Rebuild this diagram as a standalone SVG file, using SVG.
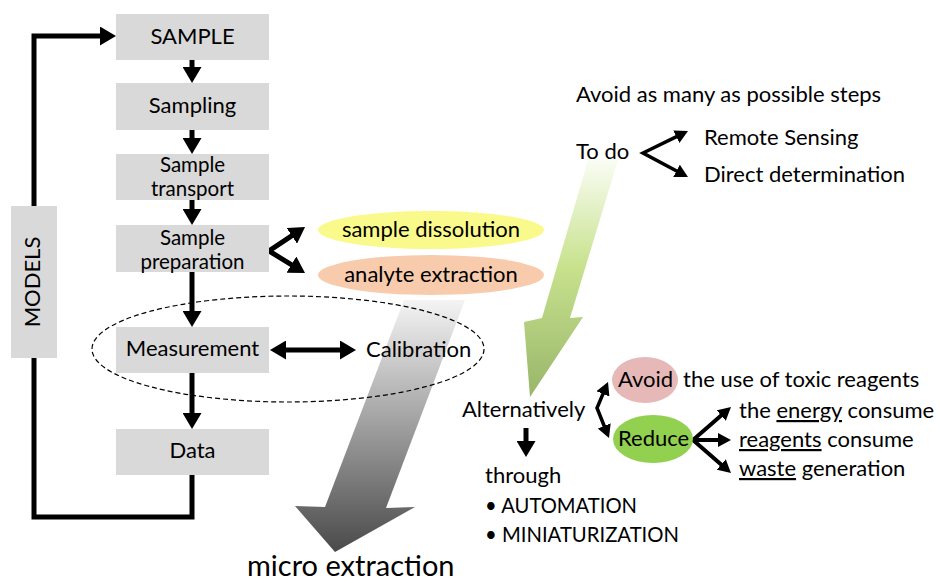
<svg xmlns="http://www.w3.org/2000/svg" width="940" height="583" viewBox="0 0 940 583">
<defs>
<style>
text{font-family:Lato,"Open Sans","Liberation Sans",sans-serif;font-size:22px;fill:#000}
.bx{fill:#d9d9d9}
.c{text-anchor:middle}
.two{font-size:20.5px}
.thick{fill:none;stroke:#000;stroke-width:5}
.thin{fill:none;stroke:#000;stroke-width:3.5}
.mid{fill:none;stroke:#000;stroke-width:4}
.u{text-decoration:underline}
</style>
<marker id="ah" viewBox="0 0 16 19" refX="8" refY="9.5" markerWidth="16" markerHeight="19" markerUnits="userSpaceOnUse" orient="auto-start-reverse">
<path d="M0,0 L16,9.5 L0,19 z" fill="#000"/>
</marker>
<marker id="ahs" viewBox="0 0 13 14" refX="6" refY="7" markerWidth="13" markerHeight="14" markerUnits="userSpaceOnUse" orient="auto-start-reverse">
<path d="M0,0 L13,7 L0,14 z" fill="#000"/>
</marker>
<linearGradient id="gGray" gradientUnits="userSpaceOnUse" x1="0" y1="300" x2="0" y2="552">
<stop offset="0" stop-color="#f4f4f4"/>
<stop offset="1" stop-color="#4a4a4a"/>
</linearGradient>
<linearGradient id="gGreen" gradientUnits="userSpaceOnUse" x1="0" y1="158" x2="0" y2="397">
<stop offset="0" stop-color="#fbfdf6"/>
<stop offset="0.45" stop-color="#c8e28e"/>
<stop offset="1" stop-color="#98b66a"/>
</linearGradient>
</defs>
<rect width="940" height="583" fill="#fff"/>

<g id="bigArrows">
<polygon points="404,300 465,300 386,508 415,507 335,552 295,506 325,507" fill="url(#gGray)"/>
<polygon points="588,160 618,160 570,318 583,317 530,397 524,322 542,318" fill="url(#gGreen)"/>
</g>

<g id="connectors">
<line class="thick" x1="192" y1="60" x2="192" y2="75" marker-end="url(#ah)"/>
<line class="thick" x1="192" y1="130" x2="192" y2="146" marker-end="url(#ah)"/>
<line class="thick" x1="192" y1="200" x2="192" y2="217" marker-end="url(#ah)"/>
<line class="thick" x1="192" y1="272" x2="192" y2="319" marker-end="url(#ah)"/>
<line class="thick" x1="192" y1="373" x2="192" y2="421" marker-end="url(#ah)"/>
<path class="thick" d="M192,475 V517 H34 V358"/>
<path class="thick" d="M34,206 V36 H108" marker-end="url(#ah)"/>
<path class="thick" d="M298.4,231.4 L269,251 L298.2,268.8" marker-start="url(#ah)" marker-end="url(#ah)"/>
<path class="thick" d="M278,350 H348" marker-start="url(#ah)" marker-end="url(#ah)"/>
<path class="thin" d="M681.7,134.1 L643,153 L681.8,173.7" marker-start="url(#ahs)" marker-end="url(#ahs)"/>
<path class="thin" d="M605.3,388.4 L597,408 L606.4,431.5" marker-start="url(#ahs)" marker-end="url(#ahs)"/>
<path class="mid" d="M725.7,411.6 L693,440 L725.7,468.4" marker-start="url(#ahs)" marker-end="url(#ahs)"/>
<line class="mid" x1="693" y1="440" x2="724" y2="440" marker-end="url(#ahs)"/>
<line class="thick" x1="526" y1="428" x2="526" y2="449" marker-end="url(#ah)"/>
</g>

<g id="measurementGroup">
<ellipse cx="288" cy="349" rx="196" ry="53" fill="none" stroke="#000" stroke-width="1.2" stroke-dasharray="5,3"/>
</g>

<g id="sample"><rect class="bx" x="116" y="14" width="153" height="46"/><text class="c" x="192.5" y="44">SAMPLE</text></g>
<g id="sampling"><rect class="bx" x="116" y="83" width="153" height="47"/><text class="c" x="192.5" y="113">Sampling</text></g>
<g id="transport"><rect class="bx" x="116" y="154" width="153" height="46"/><text class="c two" x="192.5" y="172">Sample<tspan x="192.5" dy="24">transport</tspan></text></g>
<g id="preparation"><rect class="bx" x="116" y="225" width="153" height="47"/><text class="c two" x="192.5" y="245">Sample<tspan x="192.5" dy="24">preparation</tspan></text></g>
<g id="measurement"><rect class="bx" x="116" y="327" width="153" height="46"/><text class="c" x="192.5" y="356">Measurement</text></g>
<g id="data"><rect class="bx" x="116" y="429" width="153" height="46"/><text class="c" x="192.5" y="458">Data</text></g>
<g id="models"><rect class="bx" x="11" y="206" width="46" height="152"/><text class="c" transform="translate(40,282) rotate(-90)">MODELS</text></g>

<g id="dissolution"><ellipse cx="431" cy="230" rx="113" ry="19" fill="#fafa8c"/><text class="c" x="431" y="237">sample dissolution</text></g>
<g id="extraction"><ellipse cx="431" cy="275" rx="113" ry="20" fill="#f8cbad"/><text class="c" x="431" y="282">analyte extraction</text></g>
<g id="calibration"><text x="366" y="357">Calibration</text></g>
<g id="microExtraction"><text x="247" y="576" style="font-size:29px">micro extraction</text></g>

<g id="avoidSteps"><text x="576" y="102">Avoid as many as possible steps</text></g>
<g id="todo"><text x="576" y="159">To do</text></g>
<g id="remote"><text x="704" y="145">Remote Sensing</text></g>
<g id="direct"><text x="704" y="182">Direct determination</text></g>

<g id="alternatively"><text x="462" y="417">Alternatively</text></g>
<g id="through"><text x="485" y="483">through</text><text x="485" y="513" textLength="152" lengthAdjust="spacingAndGlyphs">• AUTOMATION</text><text x="485" y="542" textLength="194" lengthAdjust="spacingAndGlyphs">• MINIATURIZATION</text></g>
<g id="avoid"><ellipse cx="645" cy="380" rx="33" ry="23" fill="#e6b9b8"/><text x="618" y="387">Avoid</text><text x="683" y="387">the use of toxic reagents</text></g>
<g id="reduce"><ellipse cx="653" cy="439" rx="40" ry="24" fill="#92d050"/><text x="618" y="446">Reduce</text></g>
<g id="energy"><text x="739" y="418">the <tspan class="u">energy</tspan> consume</text></g>
<g id="reagents"><text x="739" y="447"><tspan class="u">reagents</tspan> consume</text></g>
<g id="waste"><text x="739" y="476"><tspan class="u">waste</tspan> generation</text></g>
</svg>
